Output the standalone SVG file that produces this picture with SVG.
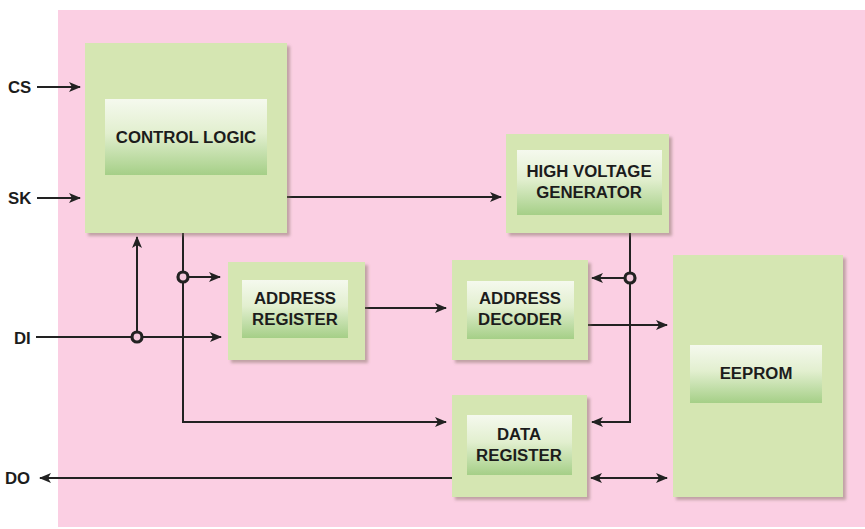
<svg xmlns="http://www.w3.org/2000/svg" width="865" height="529" viewBox="0 0 865 529">
  <defs>
    <linearGradient id="labelFill" x1="0" y1="0" x2="0" y2="1">
      <stop offset="0" stop-color="#f5f9ee"/>
      <stop offset="0.45" stop-color="#e2efcf"/>
      <stop offset="1" stop-color="#a5cf87"/>
    </linearGradient>
    <filter id="shadow" x="-10%" y="-10%" width="125%" height="125%">
      <feDropShadow dx="3" dy="3" stdDeviation="1.5" flood-color="#7a6a5a" flood-opacity="0.45"/>
    </filter>
    <marker id="arrow" viewBox="0 0 12 10" refX="11" refY="5" markerWidth="12" markerHeight="10" markerUnits="userSpaceOnUse" orient="auto-start-reverse">
      <path d="M0,0 L12,5 L0,10 L3,5 Z" fill="#222"/>
    </marker>
  </defs>
  <style>
    .block { fill: #d5e6b2; filter: url(#shadow); }
    .label { fill: url(#labelFill); }
    .txt { font-family: "Liberation Sans", Arial, sans-serif; font-weight: bold; font-size: 16.8px; fill: #1c1c1c; text-anchor: middle; }
    .pin { font-family: "Liberation Sans", Arial, sans-serif; font-weight: bold; font-size: 16.8px; fill: #1c1c1c; }
    .wire { fill: none; stroke: #222; stroke-width: 2; }
    .arr { marker-end: url(#arrow); }
    .both { marker-start: url(#arrow); marker-end: url(#arrow); }
    .dot { fill: #f4c9dc; stroke: #222; stroke-width: 3.2; }
  </style>

  <!-- background panel -->
  <rect x="58" y="10" width="807" height="517" fill="#fbcfe3"/>

  <!-- connectors -->
  <g id="connectors">
    <line class="wire arr" x1="37" y1="87" x2="80" y2="87"/>
    <line class="wire arr" x1="37" y1="198" x2="80" y2="198"/>
    <line class="wire arr" x1="36" y1="337" x2="221" y2="337"/>
    <line class="wire arr" x1="137" y1="337" x2="137" y2="237"/>
    <polyline class="wire arr" points="183,233 183,422 446,422"/>
    <line class="wire arr" x1="183" y1="277" x2="220" y2="277"/>
    <line class="wire arr" x1="287" y1="197" x2="501" y2="197"/>
    <line class="wire arr" x1="365" y1="308" x2="446" y2="308"/>
    <polyline class="wire arr" points="630,233 630,422 592,422"/>
    <line class="wire arr" x1="630" y1="278" x2="592" y2="278"/>
    <line class="wire arr" x1="588" y1="325" x2="667" y2="325"/>
    <line class="wire arr" x1="452" y1="478" x2="40" y2="478"/>
    <line class="wire both" x1="591" y1="478" x2="667" y2="478"/>
    <circle class="dot" cx="183" cy="277" r="5"/>
    <circle class="dot" cx="137" cy="337" r="5"/>
    <circle class="dot" cx="630" cy="278" r="5"/>
  </g>

  <!-- pin names -->
  <g id="pins">
    <text class="pin" x="8" y="93">CS</text>
    <text class="pin" x="8" y="204">SK</text>
    <text class="pin" x="14" y="344">DI</text>
    <text class="pin" x="5" y="484">DO</text>
  </g>

  <g id="control-logic">
    <rect class="block" x="85" y="43" width="202" height="190"/>
    <rect class="label" x="105" y="99" width="162" height="76"/>
    <text class="txt" x="186" y="143">CONTROL LOGIC</text>
  </g>

  <g id="high-voltage-generator">
    <rect class="block" x="506" y="134" width="163" height="99"/>
    <rect class="label" x="517" y="150" width="145" height="65"/>
    <text class="txt" x="589" y="177">HIGH VOLTAGE</text>
    <text class="txt" x="589" y="198">GENERATOR</text>
  </g>

  <g id="address-register">
    <rect class="block" x="228" y="262" width="137" height="98"/>
    <rect class="label" x="242" y="280" width="106" height="58"/>
    <text class="txt" x="295" y="304">ADDRESS</text>
    <text class="txt" x="295" y="325">REGISTER</text>
  </g>

  <g id="address-decoder">
    <rect class="block" x="452" y="260" width="136" height="100"/>
    <rect class="label" x="467" y="281" width="107" height="58"/>
    <text class="txt" x="520" y="304">ADDRESS</text>
    <text class="txt" x="520" y="325">DECODER</text>
  </g>

  <g id="data-register">
    <rect class="block" x="452" y="395" width="135" height="102"/>
    <rect class="label" x="467" y="415" width="105" height="60"/>
    <text class="txt" x="519" y="440">DATA</text>
    <text class="txt" x="519" y="461">REGISTER</text>
  </g>

  <g id="eeprom">
    <rect class="block" x="673" y="255" width="170" height="242"/>
    <rect class="label" x="690" y="345" width="132" height="58"/>
    <text class="txt" x="756" y="379">EEPROM</text>
  </g>
</svg>
